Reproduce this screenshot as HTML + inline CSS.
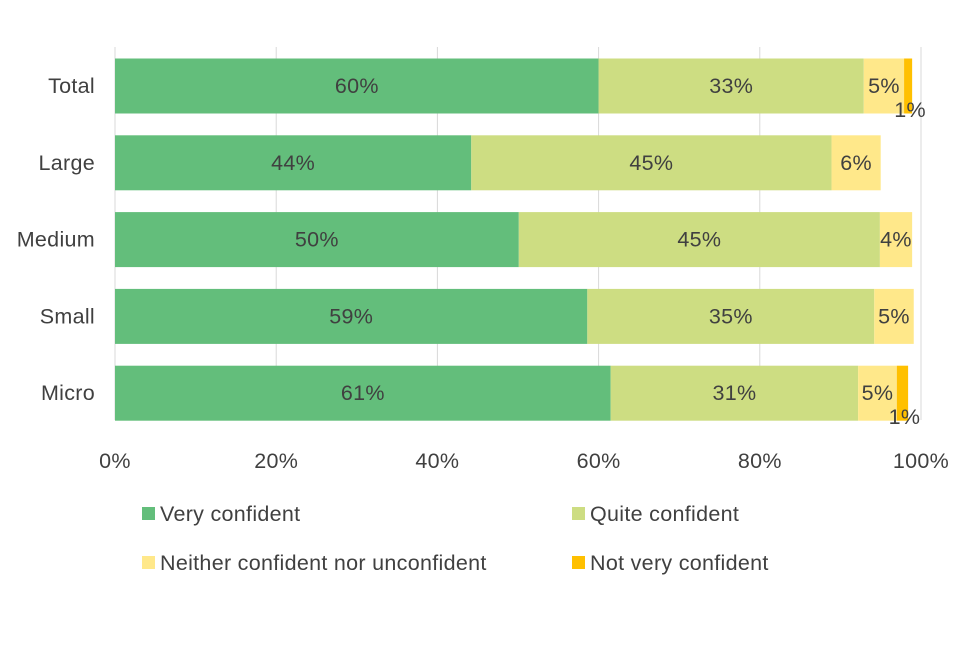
<!DOCTYPE html>
<html><head><meta charset="utf-8"><style>
body{margin:0;background:#fff;}
svg text{font-family:"Liberation Sans",Arial,sans-serif;fill:#404040;letter-spacing:0.3px;}
</style></head><body>
<svg width="960" height="640" xmlns="http://www.w3.org/2000/svg">
<g id="grid"></g><g id="bars"></g><g id="labels"></g><g id="axis"></g><g id="legend"></g>
</svg>
<script>
const categories=["Total","Large","Medium","Small","Micro"];
const seriesNames=["Very confident","Quite confident","Neither confident nor unconfident","Not very confident"];
const veryConfident=[60.0,44.2,50.1,58.6,61.5];
const quiteConfident=[32.9,44.7,44.8,35.6,30.7];
const neither=[5.0,6.1,4.0,4.9,4.8];
const notVery=[1.0,0,0,0,1.4];
const veryLabels=["60%","44%","50%","59%","61%"];
const quiteLabels=["33%","45%","45%","35%","31%"];
const neitherLabels=["5%","6%","4%","5%","5%"];
const notVeryLabels=["1%","","","","1%"];
const ticks=[0,20,40,60,80,100];
const colors=["#63be7b","#cddd82","#ffe88a","#ffc000"];
const NS="http://www.w3.org/2000/svg";
const FS=21.5;
const x=v=>115+v*8.06;
const yC=i=>86+i*76.8;
const bh=55;
function mk(tag,attrs,parent){const e=document.createElementNS(NS,tag);for(const k in attrs)e.setAttribute(k,attrs[k]);document.getElementById(parent).appendChild(e);return e;}
ticks.forEach(t=>{
  const l=mk("line",{x1:x(t),x2:x(t),y1:47,y2:420,stroke:"#d9d9d9","stroke-width":1},"grid");
  
  
  const tx=mk("text",{x:x(t),y:468,"text-anchor":"middle","font-size":FS},"axis");
  tx.textContent=t+"%";
  
  
});
const series=[veryConfident,quiteConfident,neither,notVery];
const labs=[veryLabels,quiteLabels,neitherLabels,notVeryLabels];
categories.forEach((c,i)=>{
  const ct=mk("text",{x:95,y:yC(i)+7,"text-anchor":"end","font-size":FS},"axis");
  ct.textContent=c;
  
  
  let acc=0;
  series.forEach((s,k)=>{
    const v=s[i];
    if(v>0){
      const r=mk("rect",{x:x(acc),y:yC(i)-bh/2,width:x(acc+v)-x(acc),height:bh,fill:colors[k]},"bars");
      
      
      const lt=labs[k][i];
      if(lt){
        const cx=(x(acc)+x(acc+v))/2;
        const small=v<3;
        const t=mk("text",{x:small?cx+2:cx,y:small?yC(i)+31:yC(i)+7,"text-anchor":"middle","font-size":FS},"labels");
        t.textContent=lt;
        
        
      }
    }
    acc+=v;
  });
});
const lpos=[[142,514],[572,514],[142,563],[572,563]];
seriesNames.forEach((n,k)=>{
  const r=mk("rect",{x:lpos[k][0],y:lpos[k][1]-7,width:13,height:13,fill:colors[k]},"legend");
  
  
  const t=mk("text",{x:lpos[k][0]+18,y:lpos[k][1]+7,"font-size":FS},"legend");
  t.textContent=n;
  
  
});
</script>
</body></html>
